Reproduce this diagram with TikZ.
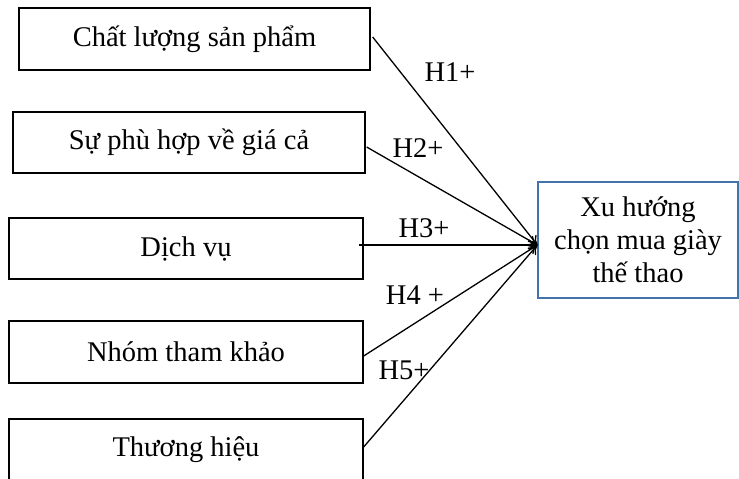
\documentclass[tikz,border=0pt]{standalone}
\usepackage{fontspec}
\setmainfont{Liberation Serif}
\usetikzlibrary{arrows.meta}
\definecolor{boxblue}{RGB}{68,114,170}
\begin{document}
\begin{tikzpicture}[x=1pt,y=-1pt,
  every node/.style={font=\fontsize{28.5}{33}\selectfont},
  src/.style={draw=black,line width=1.3pt,minimum height=62pt,inner sep=0pt},
  lbl/.style={inner sep=0pt},
  conn/.style={line width=1.3pt,-{To[length=9pt,width=11pt]}}]
\useasboundingbox (0,0) rectangle (739,479);
\node[src,minimum width=351pt,minimum height=62pt] (b1) at (194.5,39) {Chất lượng sản phẩm};
\node[src,minimum width=352pt,minimum height=61pt] (b2) at (189,142.5) {Sự phù hợp về giá cả};
\node[src,minimum width=354pt,minimum height=61pt] (b3) at (186,248.5) {Dịch vụ};
\node[src,minimum width=354pt,minimum height=62pt] (b4) at (186,352) {Nhóm tham khảo};
\node[src,minimum width=354pt,minimum height=62pt] (b5) at (186,450) {Thương hiệu};
\node[draw=boxblue,line width=1.3pt,minimum width=200pt,minimum height=116pt,inner sep=0pt,align=center] (t) at (638,240) {Xu hướng\\chọn mua giày\\thế thao};
\coordinate (tip) at ([yshift=-5pt]t.west);
\draw[conn] ([xshift=2pt,yshift=2pt]b1.east) -- (tip);
\draw[conn] ([xshift=1pt,yshift=-4.5pt]b2.east) -- (tip);
\draw[conn] ([xshift=-5pt,yshift=3.5pt]b3.east) -- (tip);
\draw[conn] ([yshift=-4pt]b4.east) -- (tip);
\draw[conn] ([yshift=3pt]b5.east) -- (tip);
\node[lbl] (h1) at (450,72) {H1+};
\node[lbl] (h2) at (418,148) {H2+};
\node[lbl] (h3) at (424,228) {H3+};
\node[lbl] (h4) at (415,295) {H4 +};
\node[lbl] (h5) at (404,370) {H5+};
\end{tikzpicture}
\end{document}
